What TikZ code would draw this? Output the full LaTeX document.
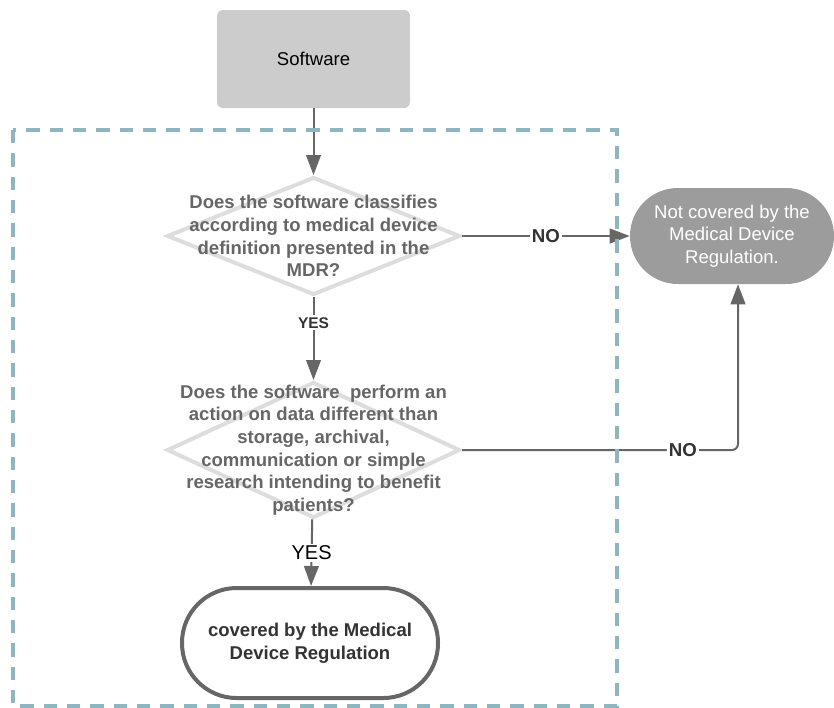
\documentclass[tikz,border=0pt]{standalone}
\usepackage{fontspec}
\setmainfont{Liberation Sans}
\usetikzlibrary{arrows.meta,shapes.geometric}
\definecolor{linegray}{HTML}{666666}
\definecolor{diamgray}{HTML}{DDDDDD}
\definecolor{frameteal}{HTML}{8EB6BE}
\definecolor{boxgray}{HTML}{CCCCCC}
\definecolor{endgray}{HTML}{9C9C9C}
\definecolor{textdark}{HTML}{333333}
\begin{document}
\begin{tikzpicture}[x=0.75pt, y=-0.75pt,
		maintext/.style={font=\fontsize{13.9}{17}\selectfont, align=center},
		question/.style={diamond, draw=diamgray, line width=3pt, fill=white, inner sep=0pt, minimum width=219.75pt},
		qtext/.style={maintext, font=\fontsize{13.9}{17}\selectfont\bfseries, text=linegray},
		flow/.style={draw=linegray, line width=1.5pt, -{Triangle[length=15pt,width=11pt]}},
		answer/.style={fill=white, inner sep=1.5pt, text=textdark}]
		\useasboundingbox (0,0) rectangle (834,707);
		
		\node[maintext, rectangle, rounded corners=4.5pt, fill=boxgray, minimum width=144.75pt, minimum height=73.5pt] (sw) at (313.5,59) {Software};
		
		\node[question, minimum height=88.5pt, label={[qtext]center:Does the software classifies\\according to medical device\\definition presented in the\\MDR?}] (q1) at (313.5,236) {};
		\node[question, minimum height=102pt, label={[qtext]center:Does the software~ perform an\\action on data different than\\storage, archival,\\communication or simple\\research intending to benefit\\patients?}] (q2) at (313.5,450) {};
		
		\node[maintext, rectangle, rounded corners=35.9pt, fill=endgray, text=white, minimum width=153pt, minimum height=72pt] (nc) at (732,236) {Not covered by the\\Medical Device\\Regulation.};
		\node[maintext, rectangle, rounded corners=41pt, draw=linegray, line width=3pt, fill=white, text=textdark, font=\fontsize{13.9}{17}\selectfont\bfseries, minimum width=192pt, minimum height=82.5pt] (cv) at (310,643) {covered by the Medical\\Device Regulation};
		
		\draw[flow] (sw) -- (q1);
		\draw[flow] (q1) -- node[answer, pos=0.31, font=\fontsize{11.6}{13}\selectfont\bfseries] {YES} (q2);
		\draw[flow] (q1) -- node[answer, font=\fontsize{14}{16}\selectfont\bfseries] {NO} (nc);
		\draw[flow, rounded corners=4.5pt] (q2.east) -| node[answer, pos=0.4, font=\fontsize{14}{16}\selectfont\bfseries] {NO} ([xshift=4.5pt]nc.south);
		\draw[flow] (q2) -- node[answer, text=black, font=\fontsize{15}{17}\selectfont] {YES} (cv);
		
		\draw[frameteal, line width=3pt, dash pattern=on 10pt off 7.5pt] (13,130) rectangle (617,706);
\end{tikzpicture}
\end{document}
